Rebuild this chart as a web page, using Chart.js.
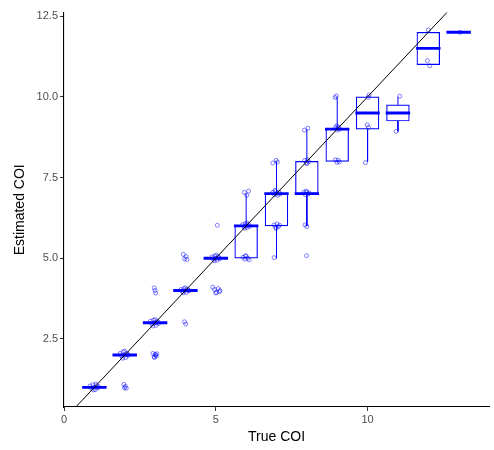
<!DOCTYPE html>
<html>
<head>
<meta charset="utf-8">
<script src="https://cdn.jsdelivr.net/npm/chart.js@4"></script>
<style>
  html, body { margin: 0; padding: 0; background: #fff; overflow: hidden; }
  #wrap { width: 494px; height: 450px; }
  canvas { display: block; }
</style>
</head>
<body>
<div id="wrap"><canvas id="c" width="494" height="450" style="width:494px;height:450px"></canvas></div>
<script>
// ---- data ----
const trueCOI  = [1, 2, 3, 4, 5, 6, 7, 8, 9, 10, 11, 12, 13];
const q1       = [1, 2, 3, 4, 5, 5, 6, 7, 8, 9, 9.25, 11, 12];
const median   = [1, 2, 3, 4, 5, 6, 7, 7, 9, 9.5, 9.5, 11.5, 12];
const q3       = [1, 2, 3, 4, 5, 6, 7, 8, 9, 10, 9.75, 12, 12];
const whiskLo  = [1, 2, 3, 4, 5, 5, 5, 6, 8, 8, 8.93, 11, 12];
const whiskHi  = [1, 2, 3, 4, 5, 7, 8, 9, 10, 10, 10, 12, 12];

// jittered observations (x = true COI + jitter, y = estimated COI + jitter)
const obsX = [
  0.86,0.90,0.95,0.99,1.03,1.07,1.11,1.14,0.97,1.05,
  1.85,1.90,1.95,1.99,2.03,2.07,2.12,2.00,1.93,2.09, 1.97,2.02,2.05,1.99,
  2.85,2.90,2.95,2.99,3.03,3.07,3.12,3.00,2.93,3.10,3.05, 2.93,2.97,3.00,3.04,3.06,2.98,3.02, 2.97,3.00,3.02,
  3.85,3.90,3.95,3.99,4.03,4.07,4.12,4.00,3.93,4.10, 3.97,4.01, 3.93,4.02,4.05,3.97,
  4.88,4.93,4.97,5.00,5.04,5.08,5.12,5.02,4.95,5.10, 4.90,4.96,5.02,5.08,5.14,5.00,5.12, 5.05,
  5.94,6.02,6.08, 5.88,5.93,5.97,6.00,6.04,6.08,6.12,6.03,5.96, 5.90,5.96,6.00,6.05,6.10,5.98,
  6.88,6.99,7.03, 6.88,6.93,6.97,7.00,7.04,7.08,7.12,6.95, 6.92,6.97,7.02,7.06,7.10,6.99, 6.92,
  7.92,8.03, 7.93,7.98,8.02,8.06,8.00, 7.90,7.95,8.00,8.04,8.08,7.97, 7.94,8.00, 7.99,
  8.93,8.97, 8.95,9.00,9.04,9.08,8.98, 8.94,8.99,9.03,9.07,
  10.05,10.02,9.99,10.03,9.93,
  11.06,10.94,
  12.00,11.97,12.05,
  13.05
];
const obsY = [
  1.04,0.97,1.08,1.00,0.93,1.05,0.98,1.02,0.92,1.10,
  2.05,1.97,2.10,2.00,1.92,2.06,1.99,2.12,1.90,2.02, 1.09,1.03,0.97,0.98,
  3.05,2.96,3.08,3.00,2.92,3.05,2.98,3.10,2.90,3.02,3.00, 2.05,1.95,2.02,1.97,2.04,1.92,2.00, 4.08,4.00,3.92,
  4.03,3.97,4.06,4.00,3.94,4.04,3.99,4.08,3.93,4.01, 3.03,2.96, 5.12,5.05,4.96,4.98,
  5.04,4.97,5.07,5.00,4.94,5.05,4.98,5.09,4.92,5.02, 4.10,4.03,3.95,4.06,4.00,3.92,3.96, 6.02,
  7.04,6.95,7.08, 6.04,5.97,6.07,6.00,5.95,6.05,5.99,6.09,5.93, 5.03,4.97,5.06,5.00,4.95,5.08,
  7.95,8.03,7.98, 7.04,6.97,7.07,7.00,6.95,7.05,6.99,7.10, 6.03,5.96,6.06,5.98,6.02,5.92, 5.02,
  8.97,9.03, 8.03,7.96,8.05,7.99,7.93, 7.04,6.97,7.05,6.99,7.02,7.08, 6.03,5.98, 5.08,
  9.98,10.03, 9.05,8.97,9.06,9.00,9.10, 8.05,7.97,8.04,7.98,
  10.06,9.98,9.13,9.05,7.96,
  10.02,8.93,
  12.07,11.12,10.96,
  12.00
];

const xTicks = [0, 5, 10];
const yTicks = [2.5, 5, 7.5, 10, 12.5];
const xTitle = 'True COI';
const yTitle = 'Estimated COI';

// ---- build datasets ----
const BLUE = '#0000ff';
const FONT = "'Liberation Sans', Arial, Helvetica, sans-serif";
const MED_HALF = 0.034; // half thickness of the median bar, in data units (style)

const boxData = trueCOI.map((x, i) => ({ x: x, y: [q1[i], q3[i]] }));
const medData = trueCOI.map((x, i) => ({ x: x, y: [median[i] - MED_HALF, median[i] + MED_HALF] }));
const whiskerData = [];
trueCOI.forEach((x, i) => {
  if (whiskHi[i] > q3[i]) {
    whiskerData.push({ x: x, y: q3[i] }, { x: x, y: whiskHi[i] }, { x: x, y: null });
  }
  if (whiskLo[i] < q1[i]) {
    whiskerData.push({ x: x, y: q1[i] }, { x: x, y: whiskLo[i] }, { x: x, y: null });
  }
});
const obsData = obsX.map((x, i) => ({ x: x, y: obsY[i] }));
const diagData = [{ x: 0, y: 0 }, { x: 14, y: 14 }];

const BOX_PX = 0.75 * (425 / 14); // 0.75 units wide

new Chart(document.getElementById('c'), {
  type: 'bar',
  data: {
    datasets: [
      {
        type: 'line', data: diagData, order: 0,
        borderColor: '#000', borderWidth: 1, pointRadius: 0, fill: false
      },
      {
        type: 'scatter', data: obsData, order: 1,
        pointStyle: 'circle', pointRadius: 2, pointBorderWidth: 0.9,
        pointBorderColor: 'rgba(0,0,255,0.55)', pointBackgroundColor: 'rgba(0,0,0,0)',
        showLine: false
      },
      {
        type: 'bar', data: medData, order: 2,
        backgroundColor: BLUE, borderWidth: 0,
        barThickness: BOX_PX + 1, grouped: false
      },
      {
        type: 'line', data: whiskerData, order: 3,
        borderColor: BLUE, borderWidth: 1, pointRadius: 0, spanGaps: false, fill: false
      },
      {
        type: 'bar', data: boxData, order: 4,
        backgroundColor: '#ffffff', borderColor: BLUE, borderWidth: 1.2,
        borderSkipped: false, barThickness: BOX_PX, grouped: false
      }
    ]
  },
  options: {
    responsive: false,
    animation: false,
    events: [],
    layout: { padding: { left: 8, right: 5, top: 12.6, bottom: 0 } },
    plugins: { legend: { display: false }, tooltip: { enabled: false } },
    scales: {
      x: {
        type: 'linear', min: 0, max: 14, offset: false,
        afterBuildTicks: s => { s.ticks = xTicks.map(v => ({ value: v })); },
        afterFit: s => { s.height = 43; },
        grid: { display: true, drawOnChartArea: false, drawTicks: true, tickLength: 4, tickColor: '#333', offset: false },
        border: { display: true, color: '#000', width: 1.1 },
        ticks: { color: '#4d4d4d', padding: 2, font: { family: FONT, size: 11 }, callback: v => String(v) },
        title: { display: true, text: xTitle, color: '#000', font: { family: FONT, size: 14 }, padding: { top: 0, bottom: 4 } }
      },
      y: {
        type: 'linear', min: 0.39, max: 12.61,
        afterBuildTicks: s => { s.ticks = yTicks.map(v => ({ value: v })); },
        afterFit: s => { s.width = 56; },
        grid: { display: true, drawOnChartArea: false, drawTicks: true, tickLength: 4, tickColor: '#333' },
        border: { display: true, color: '#000', width: 1.1 },
        ticks: { color: '#4d4d4d', padding: 2, font: { family: FONT, size: 11 }, callback: v => Number(v).toFixed(1) },
        title: { display: true, text: yTitle, color: '#000', font: { family: FONT, size: 14 }, padding: { top: 4, bottom: 0 } }
      }
    }
  }
});
</script>
</body>
</html>
